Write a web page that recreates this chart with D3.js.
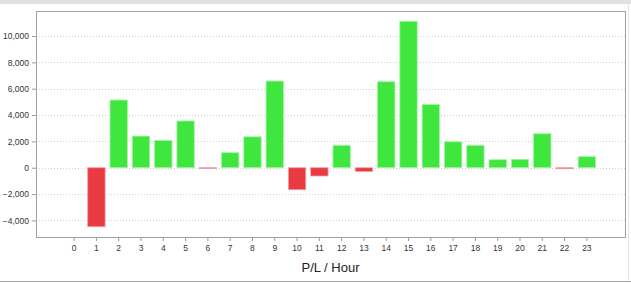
<!DOCTYPE html>
<html>
<head>
<meta charset="utf-8">
<script src="https://cdn.jsdelivr.net/npm/d3@7"></script>
<style>
    body { margin: 0; background: #fff; }
    svg { display: block; font-family: "Liberation Sans", Arial, sans-serif; }
</style>
</head>
<body>
<svg id="chart" width="631" height="283"></svg>
<script>
// hours of the day
var hours = d3.range(0, 24);

// profit / loss per hour
var pl = [0, -4480, 5140, 2400, 2080, 3550, -60, 1140, 2350, 6580, -1670, -630,
          1700, -280, 6530, 11120, 4810, 1970, 1700, 610, 640, 2580, -80, 840];

var yTicks = [-4000, -2000, 0, 2000, 4000, 6000, 8000, 10000];

var svg = d3.select("#chart");
var W = 631, H = 283;
var plot = { left: 36, top: 11, right: 625, bottom: 237 };

// top grey strip
svg.append("rect").attr("x", 0).attr("y", 0).attr("width", W).attr("height", 4)
    .attr("fill", "#e2e2e2");
// bottom separator
svg.append("line").attr("x1", 0).attr("x2", W).attr("y1", 281.5).attr("y2", 281.5)
    .attr("stroke", "#a8a8a8");
svg.append("line").attr("x1", 628.5).attr("x2", 628.5).attr("y1", 4).attr("y2", 281)
    .attr("stroke", "#e4e4e4");

var x = d3.scaleBand()
    .domain(hours)
    .range([plot.left, plot.right])
    .paddingInner(0.22)
    .paddingOuter(1.32);

var y = d3.scaleLinear()
    .domain([-5260, 11900])
    .range([plot.bottom, plot.top]);

// grid lines
svg.append("g").selectAll("line").data(yTicks).enter().append("line")
    .attr("x1", plot.left).attr("x2", plot.right)
    .attr("y1", function(d) { return Math.round(y(d)) + 0.5; })
    .attr("y2", function(d) { return Math.round(y(d)) + 0.5; })
    .attr("stroke", "#d0d0d0")
    .attr("stroke-dasharray", "1,2");

// bars
svg.append("g").selectAll("rect").data(pl).enter().append("rect")
    .attr("x", function(d, i) { return x(hours[i]); })
    .attr("width", x.bandwidth())
    .attr("y", function(d) { return y(Math.max(0, d)); })
    .attr("height", function(d) { return Math.abs(y(d) - y(0)); })
    .attr("fill", function(d) { return d >= 0 ? "#3ee63e" : "#e83a40"; })
    .attr("stroke", function(d) { return d >= 0 ? "#a6f5a6" : "#f0a0a8"; })
    .attr("stroke-width", 0.8);

// y axis labels
var yAxis = d3.axisLeft(y).tickValues(yTicks).tickSize(4).tickFormat(d3.format(","));
var gy = svg.append("g").attr("transform", "translate(" + plot.left + ",0)").call(yAxis);
gy.select(".domain").remove();
gy.selectAll(".tick line").attr("stroke", "#999");
gy.selectAll("text").attr("fill", "#333").attr("font-size", 8.5).attr("font-family", null);

// x axis
var xAxis = d3.axisBottom(x).tickSize(4).tickSizeOuter(0);
var gx = svg.append("g").attr("transform", "translate(0," + plot.bottom + ")").call(xAxis);
gx.select(".domain").remove();
gx.selectAll(".tick line").attr("stroke", "#999");
gx.selectAll("text").attr("fill", "#333").attr("font-size", 8.5).attr("font-family", null)
    .attr("dy", "0.85em");

// plot border
svg.append("rect")
    .attr("x", plot.left + 0.5).attr("y", plot.top + 0.5)
    .attr("width", plot.right - plot.left).attr("height", plot.bottom - plot.top)
    .attr("fill", "none").attr("stroke", "#a0a0a0");

svg.append("text")
    .attr("x", (plot.left + plot.right) / 2).attr("y", 272)
    .attr("text-anchor", "middle")
    .attr("font-size", 13).attr("fill", "#222")
    .text("P/L / Hour");
</script>
</body>
</html>
